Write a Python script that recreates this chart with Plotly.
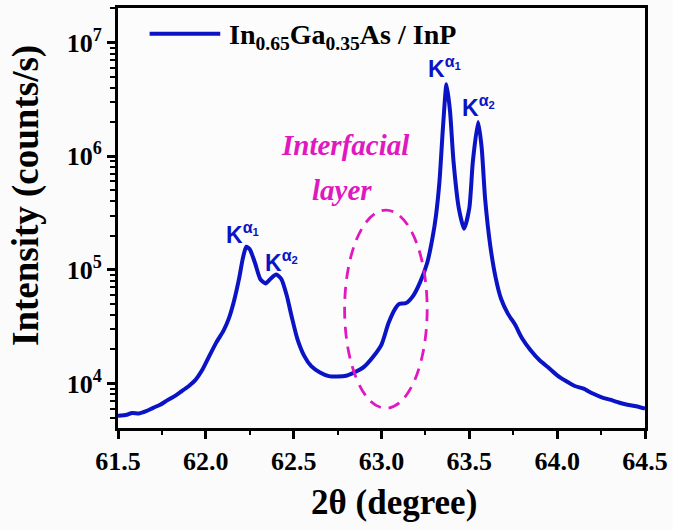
import numpy as np
import plotly.graph_objects as go

# ---- data ----
two_theta = [61.50, 61.55, 61.58, 61.62, 61.66, 61.70, 61.74, 61.78, 61.82, 61.86,
             61.90, 61.94, 61.98, 62.02, 62.06, 62.10, 62.13, 62.16, 62.19, 62.21,
             62.23, 62.25, 62.28, 62.31, 62.34, 62.37, 62.40, 62.43, 62.46, 62.49,
             62.52, 62.56, 62.60, 62.65, 62.70, 62.75, 62.80, 62.85, 62.90, 62.95,
             63.00, 63.04, 63.08, 63.10, 63.14, 63.18, 63.22, 63.26, 63.29, 63.31,
             63.33, 63.35, 63.37, 63.39, 63.41, 63.44, 63.47, 63.50, 63.52, 63.55,
             63.57, 63.59, 63.62, 63.65, 63.68, 63.72, 63.76, 63.80, 63.85, 63.90,
             63.95, 64.00, 64.05, 64.10, 64.15, 64.20, 64.25, 64.30, 64.35, 64.40,
             64.45, 64.50]
intensity = [5.2e3, 5.3e3, 5.5e3, 5.45e3, 5.7e3, 6.1e3, 6.5e3, 7.1e3, 7.7e3, 8.5e3,
             9.4e3, 1.07e4, 1.32e4, 1.75e4, 2.3e4, 2.9e4, 3.7e4, 5.3e4, 8.5e4, 1.25e5,
             1.6e5, 1.52e5, 1.15e5, 8.3e4, 7.6e4, 8.4e4, 9.1e4, 8.3e4, 6.0e4, 3.8e4,
             2.5e4, 1.75e4, 1.42e4, 1.25e4, 1.16e4, 1.15e4, 1.17e4, 1.26e4, 1.4e4, 1.7e4,
             2.2e4, 3.4e4, 4.6e4, 5.0e4, 5.1e4, 5.9e4, 7.8e4, 1.15e5, 1.9e5, 3.0e5,
             6.0e5, 1.8e6, 4.3e6, 2.5e6, 9.0e5, 3.5e5, 2.3e5, 3.5e5, 9.0e5, 2.0e6,
             1.2e6, 4.2e5, 1.6e5, 8.5e4, 5.6e4, 4.1e4, 3.3e4, 2.5e4, 1.95e4, 1.6e4,
             1.38e4, 1.18e4, 1.05e4, 9.5e3, 9.0e3, 8.2e3, 7.6e3, 7.2e3, 6.8e3, 6.5e3,
             6.3e3, 6.0e3]

x_ticks = [61.5, 62.0, 62.5, 63.0, 63.5, 64.0, 64.5]
x_tick_labels = ["61.5", "62.0", "62.5", "63.0", "63.5", "64.0", "64.5"]
y_ticks = [1e4, 1e5, 1e6, 1e7]
y_tick_labels = ["10<sup>4</sup>", "10<sup>5</sup>", "10<sup>6</sup>", "10<sup>7</sup>"]

series_name = "In<sub>0.65</sub>Ga<sub>0.35</sub>As / InP"
x_title = "2θ (degree)"
y_title = "Intensity (counts/s)"

# peak labels: (2theta, intensity, text)
peak_labels = [
    (62.21, 2.1e5, "K<sup>α<sub>1</sub></sup>"),
    (62.43, 1.19e5, "K<sup>α<sub>2</sub></sup>"),
    (63.36, 6.1e6, "K<sup>α<sub>1</sub></sup>"),
    (63.55, 2.75e6, "K<sup>α<sub>2</sub></sup>"),
]
# interfacial-layer ellipse bounds (2theta, intensity)
ell_x = [62.79, 63.26]
ell_y = [6.05e3, 3.36e5]

BLUE = "#0a14c4"
MAG = "#e018c0"
SERIF = "Liberation Serif, Times New Roman, serif"
SANS = "Liberation Sans, Arial, sans-serif"

fig = go.Figure()
fig.add_trace(go.Scatter(
    x=two_theta, y=intensity, mode="lines", name=series_name,
    line=dict(color=BLUE, width=4, shape="spline", smoothing=0.6),
    showlegend=False,
))

minor_y = [m * 10 ** e for e in range(3, 8) for m in range(2, 10)]

fig.update_layout(
    width=673, height=530,
    margin=dict(l=118, r=26, t=5, b=102),
    paper_bgcolor="#fbfbfb", plot_bgcolor="#fcfcfc",
    font=dict(family=SERIF, color="black"),
    xaxis=dict(
        range=[61.5, 64.5], tickmode="array", tickvals=x_ticks, ticktext=x_tick_labels,
        ticks="outside", ticklen=8, tickwidth=2.5, tickcolor="black",
        showline=True, linewidth=3, linecolor="black", mirror=True,
        showgrid=False, zeroline=False,
        tickfont=dict(family=SERIF, size=26, color="black", weight="bold"),
        minor=dict(dtick=0.25, tick0=61.5, ticks="outside", ticklen=4, tickwidth=2, tickcolor="black", showgrid=False),
    ),
    yaxis=dict(
        type="log", range=[3.608, 7.305], tickmode="array", tickvals=y_ticks, ticktext=y_tick_labels,
        ticks="outside", ticklen=8, tickwidth=2.5, tickcolor="black",
        showline=True, linewidth=3, linecolor="black", mirror=True,
        showgrid=False, zeroline=False,
        tickfont=dict(family=SERIF, size=26, color="black", weight="bold"),
        minor=dict(tickmode="array", tickvals=minor_y, ticks="outside", ticklen=5, tickwidth=2, tickcolor="black", showgrid=False),
    ),
)

# axis titles
fig.add_annotation(xref="paper", yref="paper", x=0.5236, y=-0.1773, text=x_title, showarrow=False,
                   xanchor="center", yanchor="middle",
                   font=dict(family=SERIF, size=35, color="black", weight="bold"))
fig.add_annotation(xref="paper", yref="paper", x=-0.1758, y=0.5532, text=y_title, showarrow=False,
                   textangle=-90, xanchor="center", yanchor="middle",
                   font=dict(family=SERIF, size=37, color="black", weight="bold"))

# legend key (line + label)
fig.add_shape(type="line", xref="paper", yref="paper", x0=0.06, x1=0.194, y0=0.9385, y1=0.9385,
              line=dict(color=BLUE, width=4))
fig.add_annotation(xref="paper", yref="paper", x=0.207, y=0.932, xanchor="left", yanchor="middle",
                   text=series_name, showarrow=False,
                   font=dict(family=SERIF, size=28, color="black", weight="bold"))

for px, py, t in peak_labels:
    fig.add_annotation(x=px, y=np.log10(py), text=t, showarrow=False,
                       xanchor="center", yanchor="middle",
                       font=dict(family=SANS, size=23, color=BLUE, weight="bold"))

fig.add_annotation(x=62.793, y=np.log10(1.25e6), text="<i>Interfacial</i>", showarrow=False,
                   font=dict(family=SERIF, size=29, color=MAG, weight="bold"))
fig.add_annotation(x=62.776, y=np.log10(5.07e5), text="<i>layer</i>", showarrow=False,
                   font=dict(family=SERIF, size=29, color=MAG, weight="bold"))

fig.add_shape(type="circle", xref="x", yref="y",
              x0=ell_x[0], x1=ell_x[1], y0=ell_y[0], y1=ell_y[1],
              line=dict(color=MAG, width=2.8, dash="12px,8px"))

fig.write_html("out.html", config={"displayModeBar": False},
               post_script="document.body.style.margin='0px';")
